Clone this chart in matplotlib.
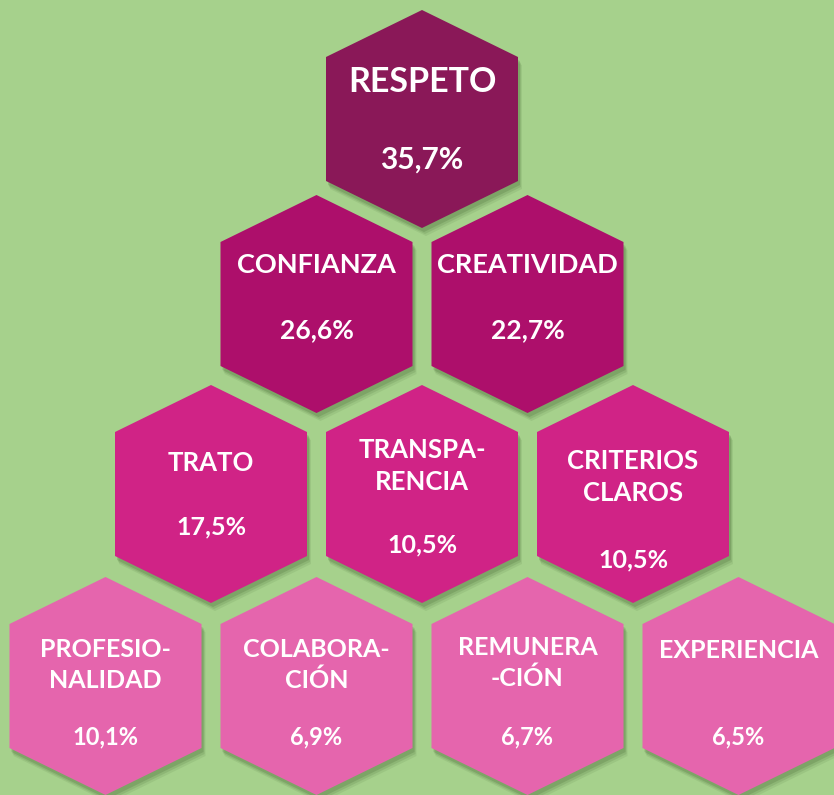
import numpy as np
import matplotlib
matplotlib.use("Agg")
import matplotlib.pyplot as plt
from matplotlib.patches import Polygon

# data
labels = ["RESPETO",
          "CONFIANZA", "CREATIVIDAD",
          "TRATO", "TRANSPA-\nRENCIA", "CRITERIOS\nCLAROS",
          "PROFESIO-\nNALIDAD", "COLABORA-\nCIÓN", "REMUNERA\n-CIÓN", "EXPERIENCIA"]
values = [35.7,
          26.6, 22.7,
          17.5, 10.5, 10.5,
          10.1, 6.9, 6.7, 6.5]
row_sizes = [1, 2, 3, 4]

# layout (pixel space, y downwards)
W, H = 834, 795
BG = "#a6d18c"
row_colors = ["#8a1858", "#ad0f6b", "#d02386", "#e565ad"]
row_cy = [119, 304, 494, 686]
row_fs = [(24.5, 21.5), (19.5, 19), (18.5, 18), (18, 17)]
x_mid, x_step = 422, 211
half_w, tip, shoulder = 96, 109, 62
# (label dy, value dy) relative to hex centre
text_dy = [(-37, 41),
           (-39, 26), (-39, 26),
           (-31, 33), (-28, 51), (-17, 66),
           (-21, 51), (-21, 51), (-23, 51), (-36, 51)]


def hexagon(cx, cy):
    return np.array([[cx, cy - tip], [cx + half_w, cy - shoulder],
                     [cx + half_w, cy + shoulder], [cx, cy + tip],
                     [cx - half_w, cy + shoulder], [cx - half_w, cy - shoulder]])


plt.rcParams["font.family"] = ["Lato", "DejaVu Sans"]

fig = plt.figure(figsize=(W / 100, H / 100), dpi=100)
fig.patch.set_facecolor(BG)
ax = fig.add_axes([0, 0, 1, 1])
ax.set_xlim(0, W)
ax.set_ylim(H, 0)
ax.axis("off")

k = 0
for r, n in enumerate(row_sizes):
    cy = row_cy[r]
    for c in range(n):
        cx = x_mid + (c - (n - 1) / 2) * x_step
        pts = hexagon(cx, cy)
        # soft drop shadow
        for d, a in [(8, 0.10), (6, 0.14), (4, 0.20)]:
            ax.add_patch(Polygon(pts + [d * 0.5, d], closed=True,
                                 fc="#3d5e2c", ec="none", alpha=a, zorder=1))
        ax.add_patch(Polygon(pts, closed=True, fc=row_colors[r], ec="none",
                             zorder=2))
        ldy, vdy = text_dy[k]
        fl, fv = row_fs[r]
        ax.text(cx, cy + ldy, labels[k], color="white", fontsize=fl,
                fontweight="bold", ha="center", va="center",
                linespacing=1.4, zorder=3)
        ax.text(cx, cy + vdy, f"{values[k]:.1f}%".replace(".", ","),
                color="white", fontsize=fv, fontweight="bold",
                ha="center", va="center", zorder=3)
        k += 1

fig.savefig("out.png", dpi=100, facecolor=BG)
